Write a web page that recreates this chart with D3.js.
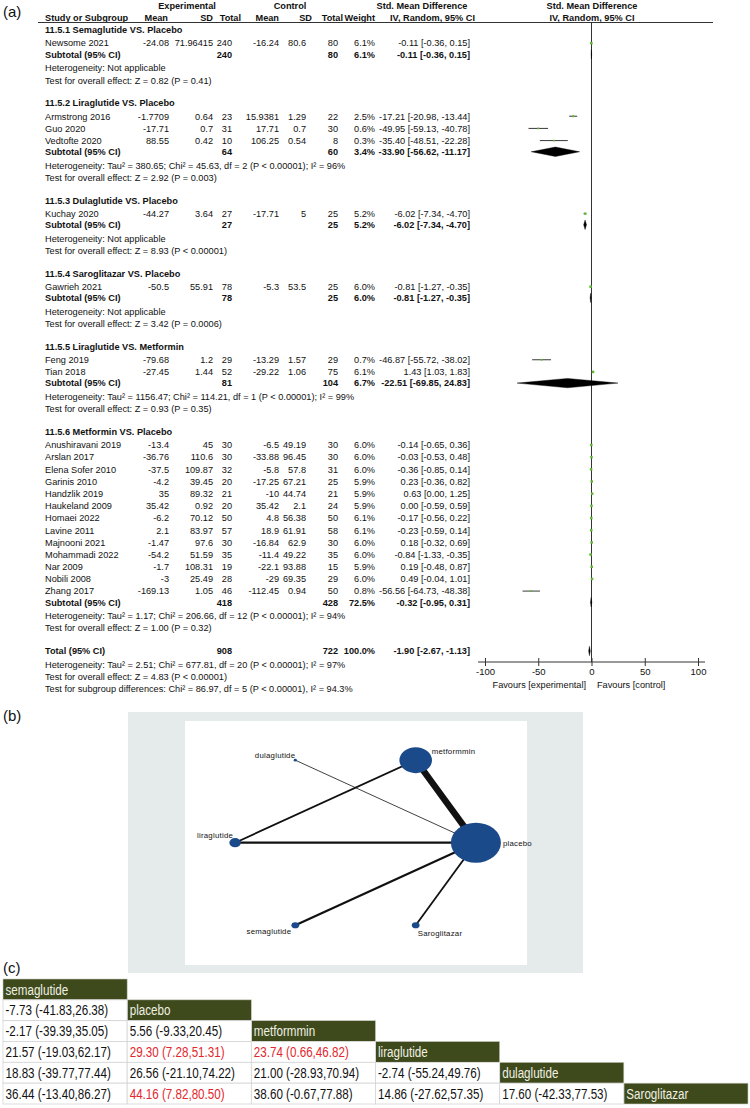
<!DOCTYPE html>
<html>
<head>
<meta charset="utf-8">
<script src="https://cdn.jsdelivr.net/npm/d3@7"></script>
<style>
    body { margin: 0; background: #fff; }
    svg text { font-family: "Liberation Sans", Arial, sans-serif; fill: #111; }
</style>
</head>
<body>
<svg id="fig" width="750" height="1108"></svg>
<script>
// ---- (a) forest plot data ----
const groupTitles = [
    "11.5.1 Semaglutide VS. Placebo",
    "11.5.2 Liraglutide VS. Placebo",
    "11.5.3 Dulaglutide VS. Placebo",
    "11.5.4 Saroglitazar VS. Placebo",
    "11.5.5 Liraglutide VS. Metformin",
    "11.5.6 Metformin VS. Placebo"
];

// group, study, exp mean, exp sd, exp n, ctl mean, ctl sd, ctl n, weight, smd, lo, hi
const studies = [
    [0, "Newsome 2021",      -24.08, 71.96415, 240, -16.24, 80.6, 80, 6.1, -0.11, -0.36, 0.15],
    [1, "Armstrong 2016",    -1.7709, 0.64, 23, 15.9381, 1.29, 22, 2.5, -17.21, -20.98, -13.44],
    [1, "Guo 2020",          -17.71, 0.7, 31, 17.71, 0.7, 30, 0.6, -49.95, -59.13, -40.78],
    [1, "Vedtofte 2020",     88.55, 0.42, 10, 106.25, 0.54, 8, 0.3, -35.40, -48.51, -22.28],
    [2, "Kuchay 2020",       -44.27, 3.64, 27, -17.71, 5, 25, 5.2, -6.02, -7.34, -4.70],
    [3, "Gawrieh 2021",      -50.5, 55.91, 78, -5.3, 53.5, 25, 6.0, -0.81, -1.27, -0.35],
    [4, "Feng 2019",         -79.68, 1.2, 29, -13.29, 1.57, 29, 0.7, -46.87, -55.72, -38.02],
    [4, "Tian 2018",         -27.45, 1.44, 52, -29.22, 1.06, 75, 6.1, 1.43, 1.03, 1.83],
    [5, "Anushiravani 2019", -13.4, 45, 30, -6.5, 49.19, 30, 6.0, -0.14, -0.65, 0.36],
    [5, "Arslan 2017",       -36.76, 110.6, 30, -33.88, 96.45, 30, 6.0, -0.03, -0.53, 0.48],
    [5, "Elena Sofer 2010",  -37.5, 109.87, 32, -5.8, 57.8, 31, 6.0, -0.36, -0.85, 0.14],
    [5, "Garinis 2010",      -4.2, 39.45, 20, -17.25, 67.21, 25, 5.9, 0.23, -0.36, 0.82],
    [5, "Handzlik 2019",     35, 89.32, 21, -10, 44.74, 21, 5.9, 0.63, 0.00, 1.25],
    [5, "Haukeland 2009",    35.42, 0.92, 20, 35.42, 2.1, 24, 5.9, 0.00, -0.59, 0.59],
    [5, "Homaei 2022",       -6.2, 70.12, 50, 4.8, 56.38, 50, 6.1, -0.17, -0.56, 0.22],
    [5, "Lavine 2011",       2.1, 83.97, 57, 18.9, 61.91, 58, 6.1, -0.23, -0.59, 0.14],
    [5, "Majnooni 2021",     -1.47, 97.6, 30, -16.84, 62.9, 30, 6.0, 0.18, -0.32, 0.69],
    [5, "Mohammadi 2022",    -54.2, 51.59, 35, -11.4, 49.22, 35, 6.0, -0.84, -1.33, -0.35],
    [5, "Nar 2009",          -1.7, 108.31, 19, -22.1, 93.88, 15, 5.9, 0.19, -0.48, 0.87],
    [5, "Nobili 2008",       -3, 25.49, 28, -29, 69.35, 29, 6.0, 0.49, -0.04, 1.01],
    [5, "Zhang 2017",        -169.13, 1.05, 46, -112.45, 0.94, 50, 0.8, -56.56, -64.73, -48.38]
];

const subtotalN = [[240, 80], [64, 60], [27, 25], [78, 25], [81, 104], [418, 428]];
const subtotalWeight = [6.1, 3.4, 5.2, 6.0, 6.7, 72.5];
const subtotalEffect = [
    [-0.11, -0.36, 0.15], [-33.90, -56.62, -11.17], [-6.02, -7.34, -4.70],
    [-0.81, -1.27, -0.35], [-22.51, -69.85, 24.83], [-0.32, -0.95, 0.31]
];
const heterogeneity = [
    "Not applicable",
    "Tau² = 380.65; Chi² = 45.63, df = 2 (P < 0.00001); I² = 96%",
    "Not applicable",
    "Not applicable",
    "Tau² = 1156.47; Chi² = 114.21, df = 1 (P < 0.00001); I² = 99%",
    "Tau² = 1.17; Chi² = 206.66, df = 12 (P < 0.00001); I² = 94%"
];
const overallTest = [
    "Z = 0.82 (P = 0.41)", "Z = 2.92 (P = 0.003)", "Z = 8.93 (P < 0.00001)",
    "Z = 3.42 (P = 0.0006)", "Z = 0.93 (P = 0.35)", "Z = 1.00 (P = 0.32)"
];
const totalN = [908, 722];
const totalEffect = [-1.90, -2.67, -1.13];
const totalNotes = [
    "Heterogeneity: Tau² = 2.51; Chi² = 677.81, df = 20 (P < 0.00001); I² = 97%",
    "Test for overall effect: Z = 4.83 (P < 0.00001)",
    "Test for subgroup differences: Chi² = 86.97, df = 5 (P < 0.00001), I² = 94.3%"
];
const axisTicks = [-100, -50, 0, 50, 100];

// ---- (b) network data ----
const treatments = ["placebo", "metformmin", "dulaglutide", "liraglutide", "semaglutide", "Saroglitazar"];
const nodeSize = [20, 13, 1.3, 4.6, 3.1, 3.1];
const comparisons = [
    ["metformmin", "placebo", 6.5],
    ["liraglutide", "placebo", 2.2],
    ["liraglutide", "metformmin", 1.8],
    ["semaglutide", "placebo", 2.2],
    ["Saroglitazar", "placebo", 1.8],
    ["dulaglutide", "placebo", 0.8]
];

// ---- (c) league table data ----
const leagueHeads = ["semaglutide", "placebo", "metformmin", "liraglutide", "dulaglutide", "Saroglitazar"];
const leagueEst = [[-7.73], [-2.17, 5.56], [21.57, 29.30, 23.74], [18.83, 26.56, 21.00, -2.74], [36.44, 44.16, 38.60, 14.86, 17.60]];
const leagueLo  = [[-41.83], [-39.39, -9.33], [-19.03, 7.28, 0.66], [-39.77, -21.10, -28.93, -55.24], [-13.40, 7.82, -0.67, -27.62, -42.33]];
const leagueHi  = [[26.38], [35.05, 20.45], [62.17, 51.31, 46.82], [77.44, 74.22, 70.94, 49.76], [86.27, 80.50, 77.88, 57.35, 77.53]];

const svg = d3.select("#fig");
const f2 = v => v.toFixed(2);
const effectText = (m, lo, hi) => `${f2(m)} [${f2(lo)}, ${f2(hi)}]`;

// panel letters
[["(a)", 12], ["(b)", 716], ["(c)", 968]].forEach(([t, y]) => {
    svg.append("text").attr("x", 3).attr("y", y + 5).attr("font-size", 15).text(t);
});

// ================= (a) forest plot =================
const fs = 9.2;
const x = d3.scaleLinear().domain([-100, 100]).range([485, 698]);

// build row list
const rows = [];
let k = 0;
groupTitles.forEach((title, g) => {
    rows.push({ k: k++, type: "head", text: title });
    studies.filter(s => s[0] === g).forEach(s => rows.push({ k: k++, type: "study", s }));
    rows.push({ k: k++, type: "sub", g });
    rows.push({ k: k++, type: "note", text: "Heterogeneity: " + heterogeneity[g] });
    rows.push({ k: k++, type: "note", text: "Test for overall effect: " + overallTest[g] });
    k++;
});
rows.push({ k: k++, type: "total" });
totalNotes.forEach(t => rows.push({ k: k++, type: "note", text: t }));

const yRow = d3.scaleLinear().domain([0, k - 1]).range([30, 687.5]);
const rowY = r => yRow(r.k) + (r.type === "note" ? 1.5 : r.type === "study" ? 1 : 0);

const forest = svg.append("g");

function txt(xp, y, t, anchor, bold) {
    forest.append("text")
        .attr("x", xp).attr("y", y + 3.3)
        .attr("font-size", fs)
        .attr("font-weight", bold ? "bold" : null)
        .attr("text-anchor", anchor || "start")
        .text(t);
}

// headers
txt(187, 6, "Experimental", "middle", true);
txt(290, 6, "Control", "middle", true);
txt(422, 6, "Std. Mean Difference", "middle", true);
txt(592, 6, "Std. Mean Difference", "middle", true);
txt(45, 18, "Study or Subgroup", "start", true);
txt(168, 18, "Mean", "end", true);
txt(213, 18, "SD", "end", true);
txt(241, 18, "Total", "end", true);
txt(279, 18, "Mean", "end", true);
txt(312, 18, "SD", "end", true);
txt(343, 18, "Total", "end", true);
txt(375, 18, "Weight", "end", true);
txt(475, 18, "IV, Random, 95% CI", "end", true);
txt(592, 18, "IV, Random, 95% CI", "middle", true);
forest.append("line").attr("x1", 38).attr("x2", 713).attr("y1", 22.5).attr("y2", 22.5)
    .attr("stroke", "#333").attr("stroke-width", 1);

// zero line
forest.append("line").attr("x1", x(0)).attr("x2", x(0)).attr("y1", 22.5).attr("y2", 662)
    .attr("stroke", "#333").attr("stroke-width", 1);

function diamond(y, m, lo, hi) {
    const h = 4.7;
    forest.append("path")
        .attr("d", `M${x(lo)},${y}L${x(m)},${y - h}L${x(hi)},${y}L${x(m)},${y + h}Z`)
        .attr("fill", "#000").attr("stroke", "#000").attr("stroke-width", 0.4);
}

rows.forEach(r => {
    const y = rowY(r);
    if (r.type === "head") {
        txt(45, y, r.text, "start", true);
    } else if (r.type === "note") {
        txt(45, y, r.text);
    } else if (r.type === "study") {
        const s = r.s;
        txt(45, y, s[1]);
        txt(169, y, String(s[2]), "end");
        txt(213, y, String(s[3]), "end");
        txt(232, y, String(s[4]), "end");
        txt(279, y, String(s[5]), "end");
        txt(306, y, String(s[6]), "end");
        txt(338, y, String(s[7]), "end");
        txt(375, y, s[8].toFixed(1) + "%", "end");
        txt(470, y, effectText(s[9], s[10], s[11]), "end");
        const sz = 1.6 + s[8] * 0.15;
        if (x(s[11]) - x(s[10]) > sz) {
            forest.append("line").attr("x1", x(s[10])).attr("x2", x(s[11]))
                .attr("y1", y).attr("y2", y).attr("stroke", "#222").attr("stroke-width", 0.9);
        }
        forest.append("rect").attr("x", x(s[9]) - sz / 2).attr("y", y - sz / 2)
            .attr("width", sz).attr("height", sz).attr("fill", "#5cb82e");
    } else if (r.type === "sub") {
        const g = r.g;
        txt(45, y, "Subtotal (95% CI)", "start", true);
        txt(232, y, String(subtotalN[g][0]), "end", true);
        txt(338, y, String(subtotalN[g][1]), "end", true);
        txt(375, y, subtotalWeight[g].toFixed(1) + "%", "end", true);
        txt(470, y, effectText(...subtotalEffect[g]), "end", true);
        diamond(y, ...subtotalEffect[g]);
    } else if (r.type === "total") {
        txt(45, y, "Total (95% CI)", "start", true);
        txt(232, y, String(totalN[0]), "end", true);
        txt(338, y, String(totalN[1]), "end", true);
        txt(375, y, "100.0%", "end", true);
        txt(470, y, effectText(...totalEffect), "end", true);
        diamond(y, ...totalEffect);
    }
});

// axis
const axisY = 662;
const axisG = forest.append("g").attr("transform", `translate(0,${axisY})`)
    .call(d3.axisBottom(x).tickValues(axisTicks).tickFormat(d => String(d)).tickSize(4).tickPadding(2));
axisG.select(".domain").remove();
axisG.selectAll(".tick line").attr("y1", -4).attr("y2", 4).attr("stroke", "#333");
axisG.selectAll(".tick text").attr("font-size", 9.5).attr("fill", "#111")
    .attr("font-family", "Liberation Sans, Arial, sans-serif");
forest.append("line").attr("x1", 478).attr("x2", 705).attr("y1", axisY).attr("y2", axisY)
    .attr("stroke", "#333").attr("stroke-width", 1);
txt(586, 684.5, "Favours [experimental]", "end");
txt(597, 684.5, "Favours [control]", "start");

// ================= (b) network plot =================
const net = svg.append("g");
net.append("rect").attr("x", 128).attr("y", 712).attr("width", 455).attr("height", 261).attr("fill", "#e5eaea");
net.append("rect").attr("x", 185).attr("y", 721).attr("width", 342).attr("height", 244).attr("fill", "#fff");

// nodes placed evenly around an ellipse, placebo at 0 degrees
const angle = d3.scaleLinear().domain([0, treatments.length]).range([0, 2 * Math.PI]);
const cx0 = 355.5, cy0 = 842.7, erx = 120.4, ery = 95.3;
const aspect = 1.25;
const nodes = treatments.map((name, i) => ({
    name,
    size: nodeSize[i],
    x: cx0 + erx * Math.cos(angle(i)),
    y: cy0 - ery * Math.sin(angle(i))
}));
const byName = Object.fromEntries(nodes.map(n => [n.name, n]));

net.selectAll("line.edge")
    .data(comparisons)
    .enter().append("line")
    .attr("class", "edge")
    .attr("x1", d => byName[d[0]].x).attr("y1", d => byName[d[0]].y)
    .attr("x2", d => byName[d[1]].x).attr("y2", d => byName[d[1]].y)
    .attr("stroke", "#111")
    .attr("stroke-width", d => d[2]);

net.selectAll("ellipse")
    .data(nodes)
    .enter().append("ellipse")
    .attr("cx", d => d.x).attr("cy", d => d.y)
    .attr("rx", d => d.size * aspect).attr("ry", d => d.size)
    .attr("fill", "#1b4a8a");

// label placement around each node
const labelPlace = {
    placebo:      { dx: 27,  dy: 3,  anchor: "start" },
    metformmin:   { dx: 16,  dy: -6, anchor: "start" },
    dulaglutide:  { dx: 0,   dy: -2, anchor: "end" },
    liraglutide:  { dx: -2,  dy: -5, anchor: "end" },
    semaglutide:  { dx: -4,  dy: 9,  anchor: "end" },
    Saroglitazar: { dx: 2,   dy: 11, anchor: "start" }
};
net.selectAll("text.node-label")
    .data(nodes)
    .enter().append("text")
    .attr("class", "node-label")
    .attr("x", d => d.x + labelPlace[d.name].dx)
    .attr("y", d => d.y + labelPlace[d.name].dy)
    .attr("text-anchor", d => labelPlace[d.name].anchor)
    .attr("font-family", "DejaVu Sans, sans-serif")
    .attr("font-size", 7.8)
    .attr("letter-spacing", 0.25)
    .attr("fill", "#222")
    .text(d => d.name);

// ================= (c) league table =================
const league = svg.append("g");
const colX = d3.scaleLinear().domain([0, 6]).range([3, 748]);
const rowTop = d3.scaleLinear().domain([0, 6]).range([979, 1104]);
// narrow look: squeeze Liberation Sans horizontally
const cellText = (xp, y, t, colour) => league.append("text")
    .attr("transform", `translate(${xp},${y}) scale(0.75,1)`)
    .attr("font-size", 15.5)
    .style("fill", colour)
    .text(t);

leagueHeads.forEach((h, i) => {
    league.append("rect")
        .attr("x", colX(i)).attr("y", rowTop(i))
        .attr("width", colX(i + 1) - colX(i)).attr("height", rowTop(i + 1) - rowTop(i))
        .attr("fill", "#3e4a1c").attr("stroke", "#c9ccc0").attr("stroke-width", 0.6);
    cellText(colX(i) + 2.5, rowTop(i) + 15.5, h, "#f0f0e4");
});

leagueEst.forEach((rowVals, r) => {
    const i = r + 1;
    rowVals.forEach((est, j) => {
        const lo = leagueLo[r][j], hi = leagueHi[r][j];
        const sig = lo > 0 || hi < 0;
        league.append("rect")
            .attr("x", colX(j)).attr("y", rowTop(i))
            .attr("width", colX(j + 1) - colX(j)).attr("height", rowTop(i + 1) - rowTop(i))
            .attr("fill", "#fff").attr("stroke", "#d4d4d4").attr("stroke-width", 0.8);
        cellText(colX(j) + 2.5, rowTop(i) + 15.5, `${f2(est)} (${f2(lo)},${f2(hi)})`, sig ? "#e3262c" : "#111");
    });
});
</script>
</body>
</html>
